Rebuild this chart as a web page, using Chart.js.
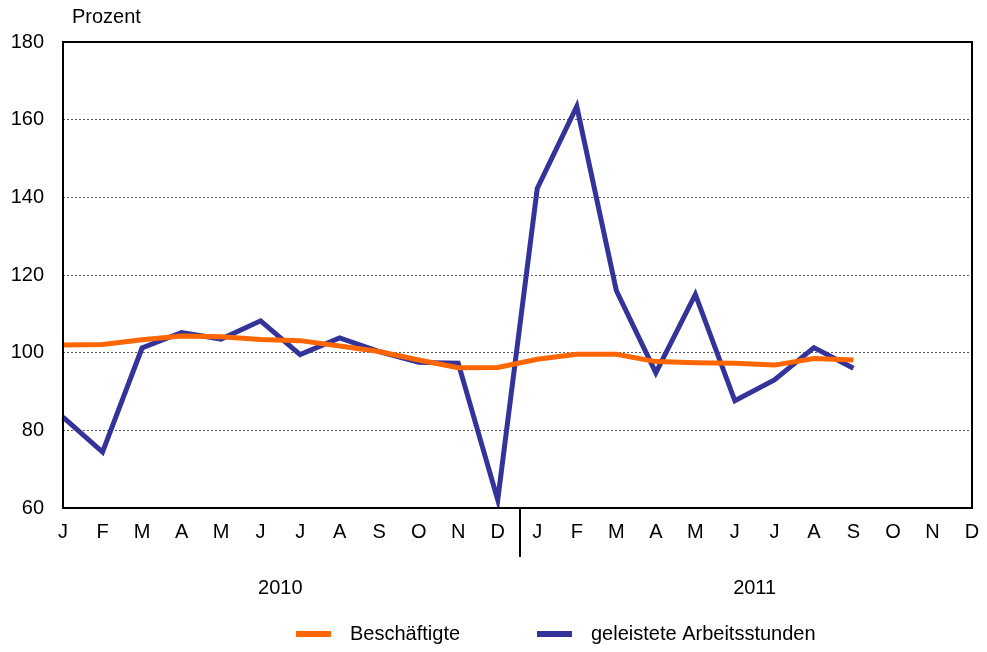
<!DOCTYPE html>
<html>
<head>
<meta charset="utf-8">
<script src="https://cdn.jsdelivr.net/npm/chart.js@4"></script>
<style>
  body { margin: 0; background: #fff; }
  #wrap { width: 987px; height: 652px; }
</style>
</head>
<body>
<div id="wrap"><canvas id="chart" width="987" height="652"></canvas></div>
<script>
// data
const months = ['J', 'F', 'M', 'A', 'M', 'J', 'J', 'A', 'S', 'O', 'N', 'D',
                'J', 'F', 'M', 'A', 'M', 'J', 'J', 'A', 'S', 'O', 'N', 'D'];
const years = ['2010', '2011'];
const beschaeftigte = [102, 102.1, 103.3, 104.3, 104.1, 103.4, 103.1, 101.7, 100.3, 98.1, 96.1, 96.2,
                       98.3, 99.6, 99.6, 97.7, 97.4, 97.3, 96.8, 98.5, 98.1, null, null, null];
const arbeitsstunden = [83.4, 74.4, 101.2, 105.2, 103.5, 108.2, 99.5, 103.8, 100.3, 97.5, 97.3, 62.1,
                        142.3, 163.4, 116, 94.8, 115, 87.6, 93, 101.3, 96, null, null, null];
const yTicks = [60, 80, 100, 120, 140, 160, 180];

const FONT = '"Liberation Sans", Arial, sans-serif';

// frame, unit label, year separator, year labels and legend
const decorations = {
  id: 'decorations',
  afterDraw: function(chart) {
    const ctx = chart.ctx;
    const area = chart.chartArea;
    const x = chart.scales.x;
    ctx.save();
    ctx.strokeStyle = '#000';
    ctx.lineWidth = 2;
    ctx.strokeRect(area.left, area.top, area.right - area.left, area.bottom - area.top);

    // year separator
    const sepX = Math.round((x.getPixelForValue(11) + x.getPixelForValue(12)) / 2) + 2;
    ctx.beginPath();
    ctx.moveTo(sepX, area.bottom);
    ctx.lineTo(sepX, area.bottom + 49);
    ctx.stroke();

    ctx.fillStyle = '#000';
    ctx.font = '20px ' + FONT;
    ctx.textBaseline = 'middle';
    ctx.textAlign = 'left';
    ctx.fillText('Prozent', area.left + 9, 17);

    ctx.textAlign = 'center';
    for (let i = 0; i < years.length; i++) {
      const cx = (x.getPixelForValue(i * 12) + x.getPixelForValue(i * 12 + 11)) / 2;
      ctx.fillText(years[i], cx, 588);
    }

    // legend
    const legendX = [296, 537];
    ctx.textAlign = 'left';
    chart.data.datasets.forEach(function(ds, i) {
      ctx.fillStyle = ds.borderColor;
      ctx.fillRect(legendX[i], 631, 35, 6);
      ctx.fillStyle = '#000';
      ctx.fillText(ds.label, legendX[i] + 54, 634);
    });
    ctx.restore();
  }
};

const ctx = document.getElementById('chart').getContext('2d');
new Chart(ctx, {
  type: 'line',
  data: {
    labels: months,
    datasets: [
      {
        label: 'Beschäftigte',
        data: beschaeftigte,
        borderColor: '#FF6600',
        borderWidth: 5,
        pointRadius: 0,
        tension: 0,
        spanGaps: false
      },
      {
        label: 'geleistete Arbeitsstunden',
        data: arbeitsstunden,
        borderColor: '#333399',
        borderWidth: 5,
        pointRadius: 0,
        tension: 0,
        spanGaps: false
      }
    ]
  },
  options: {
    responsive: false,
    animation: false,
    layout: { padding: { left: 0, right: 15, top: 42, bottom: 0 } },
    plugins: {
      legend: { display: false },
      tooltip: { enabled: false }
    },
    scales: {
      x: {
        offset: false,
        grid: { display: false, drawTicks: false },
        border: { display: false },
        ticks: {
          color: '#000',
          font: { family: FONT, size: 20 },
          padding: 12,
          maxRotation: 0,
          autoSkip: false
        },
        afterFit: function(scale) {
          scale.height = 144;
          scale.paddingLeft = 0;
          scale.paddingRight = 0;
        }
      },
      y: {
        min: 60,
        max: 180,
        afterBuildTicks: function(scale) {
          scale.ticks = yTicks.map(function(v) { return { value: v }; });
        },
        grid: {
          color: '#555',
          lineWidth: 1,
          drawTicks: false
        },
        border: { display: false, dash: [2, 2] },
        ticks: {
          color: '#000',
          font: { family: FONT, size: 20 },
          padding: 19
        },
        afterFit: function(scale) { scale.width = 63; }
      }
    }
  },
  plugins: [decorations]
});
</script>
</body>
</html>
